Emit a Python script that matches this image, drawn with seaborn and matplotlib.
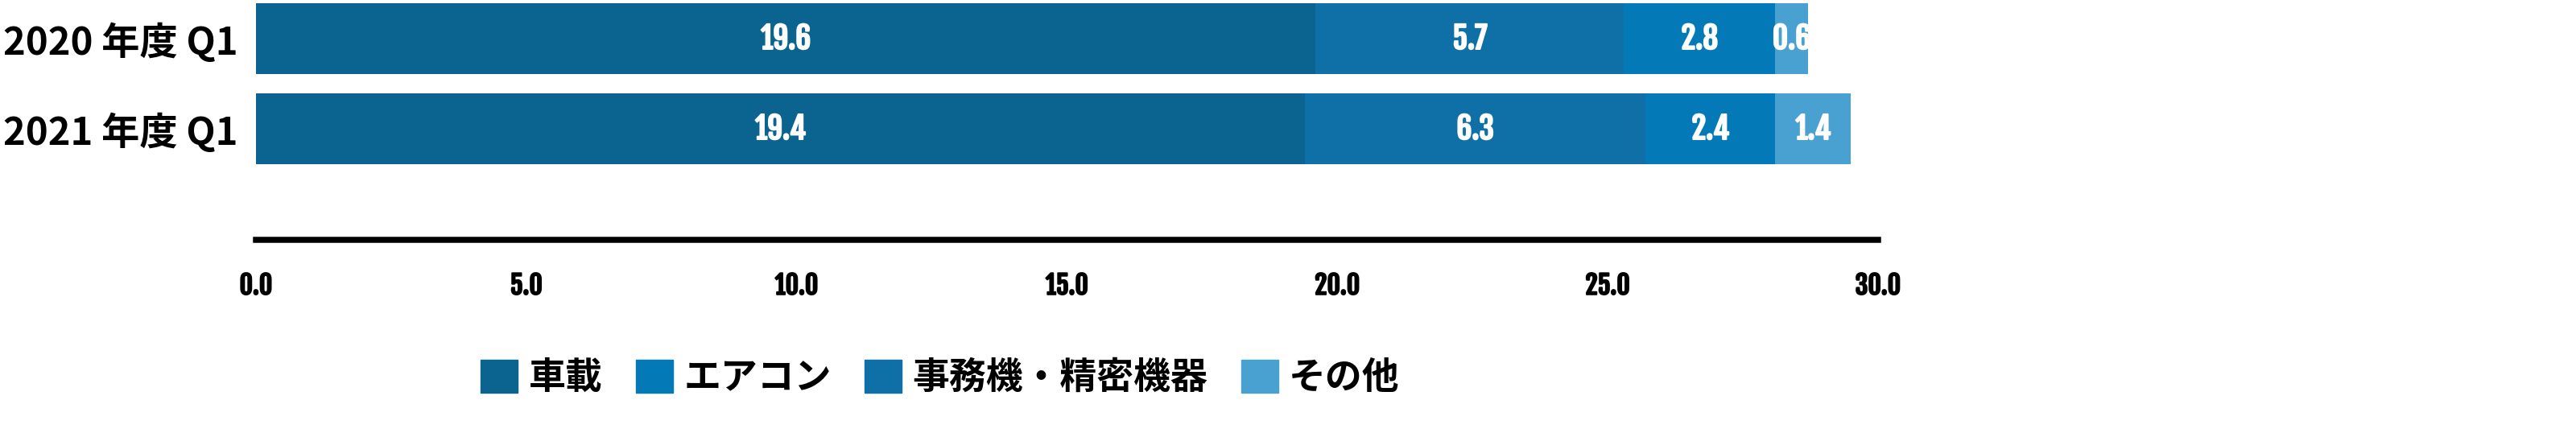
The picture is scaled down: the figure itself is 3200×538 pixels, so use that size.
import matplotlib
matplotlib.use("Agg")
import matplotlib.pyplot as plt
import matplotlib.patches as mpatches
import matplotlib.patheffects as pe
import seaborn as sns
import pandas as pd

# data
periods = ["2020 年度 Q1", "2021 年度 Q1"]
series_names = ["車載", "事務機・精密機器", "エアコン", "その他"]
car = [19.6, 19.4]
office = [5.7, 6.3]
aircon = [2.8, 2.4]
other = [0.6, 1.4]
x_ticks = [0.0, 5.0, 10.0, 15.0, 20.0, 25.0, 30.0]
legend_order = ["車載", "エアコン", "事務機・精密機器", "その他"]

colors = {
    "車載": "#0B638F",
    "事務機・精密機器": "#0E70A6",
    "エアコン": "#037AB7",
    "その他": "#48A1D0",
}

sns.set_theme(style="white")
plt.rcParams["font.family"] = ["Noto Sans CJK JP", "DejaVu Sans"]
num_font = ["Fjalla One", "DejaVu Sans"]

df = pd.DataFrame({"period": periods, "車載": car, "事務機・精密機器": office,
                   "エアコン": aircon, "その他": other})
cum = df[series_names].cumsum(axis=1)

fig = plt.figure(figsize=(32, 5.38), dpi=100)
ax = fig.add_axes([0.099375, 0.4461, 0.6297, 0.54647])

# stacked bars: draw cumulative totals from the outside in
for name in reversed(series_names):
    sns.barplot(x=cum[name], y=df["period"], orient="h", color=colors[name],
                saturation=1, width=0.786, linewidth=0, ax=ax)

# value labels, centred in each segment (stroke makes the condensed face heavier)
white_bold = [pe.withStroke(linewidth=1.3, foreground="white")]
for name in series_names:
    starts = cum[name] - df[name]
    for i, (s, v) in enumerate(zip(starts, df[name])):
        ax.text(s + v / 2, i, f"{v:.1f}", ha="center", va="center", color="white",
                fontsize=27, family=num_font, path_effects=white_bold)

ax.set_xlim(0, 30)
ax.set_ylim(2.23, -0.393)
ax.set_xticks(x_ticks)
ax.set_xticklabels([f"{t:.1f}" for t in x_ticks], fontsize=23, family=num_font,
                   color="black")
for lab in ax.get_xticklabels():
    lab.set_path_effects([pe.withStroke(linewidth=1.3, foreground="black")])
ax.tick_params(axis="x", length=0, pad=28)
ax.tick_params(axis="y", length=0, pad=16, labelsize=34, labelcolor="black")
for lab in ax.get_yticklabels():
    lab.set_fontweight("bold")
ax.set_xlabel("")
ax.set_ylabel("")

sns.despine(ax=ax, left=True, top=True, right=True)
ax.spines["bottom"].set_color("black")
ax.spines["bottom"].set_linewidth(5.4)
ax.spines["bottom"].set_capstyle("projecting")
ax.grid(False)

handles = [mpatches.Patch(color=colors[n], label=n) for n in legend_order]
leg = fig.legend(handles=handles, loc="center", bbox_to_anchor=(0.365, 0.1264),
                 ncol=4, frameon=False, handlelength=1.0, handleheight=1.0,
                 handletextpad=0.3, columnspacing=0.9, borderaxespad=0,
                 prop={"size": 33, "weight": "bold"})
for t in leg.get_texts():
    t.set_color("black")

fig.savefig("out.png", dpi=100)
